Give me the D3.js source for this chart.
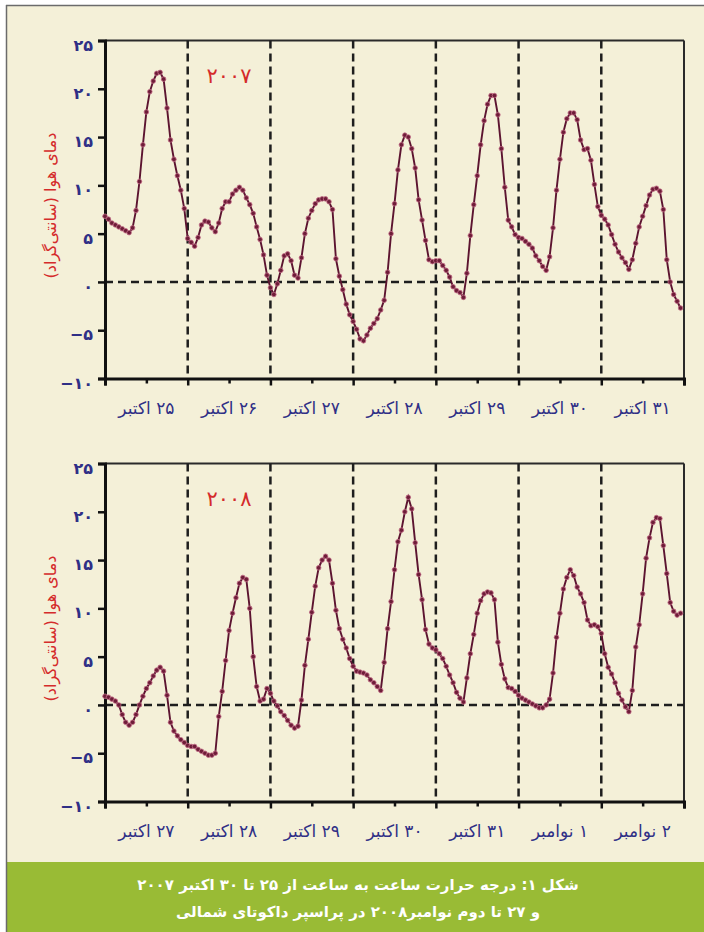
<!DOCTYPE html>
<html><head><meta charset="utf-8">
<script src="https://cdn.jsdelivr.net/npm/d3@7"></script>
<style>
html,body{margin:0;padding:0;background:#fff;}
svg{display:block;}
</style></head>
<body>
<svg id="chart" width="704" height="932"></svg>
<script>
// ---------- data ----------
const temps2007 = [
6.8,6.5,6.1,5.9,5.7,5.5,5.3,5.1,5.6,7.4,10.4,14.2,17.6,19.7,20.8,21.6,21.7,21.0,18.0,14.7,12.7,11.0,9.5,7.6,
4.5,4.1,3.7,4.6,5.9,6.3,6.2,5.6,5.2,6.1,7.6,8.3,8.3,9.1,9.5,9.8,9.5,8.7,8.0,7.1,5.7,4.4,2.8,0.7,
-0.6,-1.3,-0.2,1.2,2.7,2.9,2.2,0.7,0.4,2.5,5.0,6.6,7.4,8.1,8.5,8.6,8.6,8.3,7.5,2.4,0.6,-0.8,-2.3,-3.4,
-4.1,-4.9,-5.9,-6.1,-5.5,-4.8,-4.3,-3.8,-2.9,-1.9,1.0,5.0,8.1,11.6,14.2,15.2,15.0,13.8,11.8,8.5,6.4,4.3,2.3,2.1,
2.2,2.2,1.7,1.2,0.5,-0.5,-0.9,-1.1,-1.6,0.9,4.8,8.0,11.0,14.2,16.7,18.4,19.3,19.3,17.3,13.8,9.8,6.4,5.7,4.9,
4.6,4.5,4.2,3.9,3.5,2.7,2.2,1.6,1.2,2.6,5.6,9.5,12.7,15.5,16.9,17.5,17.5,16.8,14.7,13.7,13.8,12.6,10.1,7.8,
6.9,6.5,5.9,4.9,3.9,3.1,2.5,2.0,1.3,2.3,4.0,5.7,6.8,7.9,9.0,9.6,9.7,9.4,7.5,2.3,0.0,-1.3,-2.0,-2.7
];
const temps2008 = [
0.9,0.8,0.6,0.4,0.0,-1.0,-1.8,-2.1,-1.8,-1.0,0.0,0.9,1.7,2.3,3.0,3.6,3.9,3.5,1.0,-1.8,-2.7,-3.2,-3.6,-3.9,
-4.2,-4.3,-4.3,-4.6,-4.8,-5.0,-5.2,-5.2,-5.0,-1.2,1.4,4.6,7.7,9.5,11.1,12.6,13.2,13.0,10.0,5.0,1.9,0.4,0.6,1.7,
1.2,0.4,-0.1,-0.7,-1.1,-1.6,-2.1,-2.4,-2.2,0.5,4.1,6.8,9.6,12.3,14.2,15.0,15.4,15.0,12.6,9.8,7.9,6.8,5.9,4.8,
4.0,3.5,3.4,3.3,3.1,2.6,2.3,1.9,1.5,4.4,7.9,10.7,14.0,16.9,18.1,20.0,21.5,20.3,16.8,13.5,10.9,7.8,6.3,5.9,
5.7,5.3,4.8,4.0,3.1,2.3,1.3,0.7,0.3,2.8,5.3,7.3,9.5,10.8,11.5,11.7,11.6,10.9,6.5,4.2,2.7,1.8,1.7,1.4,
1.0,0.7,0.5,0.3,0.1,-0.1,-0.3,-0.3,0.0,0.6,3.3,7.0,9.5,12.0,13.2,14.0,13.4,12.2,11.5,10.6,8.8,8.2,8.3,8.1,
7.4,5.3,3.9,3.2,2.3,1.2,0.5,-0.2,-0.7,1.5,6.0,8.3,11.5,15.2,17.3,18.9,19.4,19.3,16.5,13.6,10.6,9.7,9.3,9.5
];
const days2007 = ["۲۵ اکتبر","۲۶ اکتبر","۲۷ اکتبر","۲۸ اکتبر","۲۹ اکتبر","۳۰ اکتبر","۳۱ اکتبر"];
const days2008 = ["۲۷ اکتبر","۲۸ اکتبر","۲۹ اکتبر","۳۰ اکتبر","۳۱ اکتبر","۱ نوامبر","۲ نوامبر"];
const yTicks = [-10,-5,0,5,10,15,20,25];
const yearLabels = ["۲۰۰۷","۲۰۰۸"];
const yTitle = "دمای هوا (سانتی‌گراد)";
const captionLines = ["شکل ۱: درجه حرارت ساعت به ساعت از ۲۵ تا ۳۰ اکتبر ۲۰۰۷",
                      "و ۲۷ تا دوم نوامبر۲۰۰۸ در پراسپر داکوتای شمالی"];

// ---------- helpers ----------
const fa = s => String(s).replace(/\d/g, d => "۰۱۲۳۴۵۶۷۸۹"[+d]);
const fmtY = v => v < 0 ? "−" + fa(Math.abs(v)) : fa(v);
const FONT = "'DejaVu Sans', 'Noto Sans', sans-serif";

const svg = d3.select("#chart");
// background
svg.append("rect").attr("x",0).attr("y",0).attr("width",704).attr("height",932).attr("fill","#ffffff");
svg.append("rect").attr("x",6).attr("y",5).attr("width",698).attr("height",857).attr("fill","#f4f0d8");
svg.append("rect").attr("x",6).attr("y",862).attr("width",698).attr("height",70).attr("fill","#99bb35");
svg.append("line").attr("x1",6.5).attr("x2",6.5).attr("y1",5).attr("y2",932).attr("stroke","#6b6b6b").attr("stroke-width",1.5);
svg.append("line").attr("x1",6).attr("x2",704).attr("y1",5.5).attr("y2",5.5).attr("stroke","#6b6b6b").attr("stroke-width",1.5);

const L = 105, R = 684;
const x = d3.scaleLinear().domain([0,168]).range([L,R]);

function panel(top, bottom, data, dayLabels, year){
  const y = d3.scaleLinear().domain([-10,25]).range([bottom, top]);
  const g = svg.append("g");

  // frame top & right
  g.append("line").attr("x1",L).attr("x2",R).attr("y1",top).attr("y2",top).attr("stroke","#2a2a2a").attr("stroke-width",2);
  g.append("line").attr("x1",R).attr("x2",R).attr("y1",top).attr("y2",bottom).attr("stroke","#2a2a2a").attr("stroke-width",2);

  // dashed day separators and zero line
  g.selectAll("line.vsep").data(d3.range(24,168,24)).join("line")
    .attr("x1",d=>x(d)).attr("x2",d=>x(d)).attr("y1",top).attr("y2",bottom)
    .attr("stroke","#1e1e1e").attr("stroke-width",2.5).attr("stroke-dasharray","8,5");
  g.append("line").attr("x1",L).attr("x2",R).attr("y1",y(0)).attr("y2",y(0))
    .attr("stroke","#1e1e1e").attr("stroke-width",2.5).attr("stroke-dasharray","8,5");

  // y axis
  const ya = g.append("g").attr("transform",`translate(${L},0)`)
    .call(d3.axisLeft(y).tickValues(yTicks).tickSize(7).tickFormat(fmtY));
  ya.select(".domain").attr("stroke","#111").attr("stroke-width",3);
  ya.selectAll(".tick line").attr("stroke","#111").attr("stroke-width",2.5);
  ya.selectAll(".tick text").attr("x",-12).attr("dy","0.6em")
    .attr("fill","#2f2f86").attr("font-family",FONT).attr("font-size",16).attr("font-weight","bold")
    .attr("direction","ltr");

  // x axis
  const xa = g.append("g").attr("transform",`translate(0,${bottom})`)
    .call(d3.axisBottom(x).tickValues(d3.range(0,169,12)).tickSize(7).tickFormat(""));
  xa.select(".domain").attr("stroke","#111").attr("stroke-width",3);
  xa.selectAll(".tick line").attr("stroke","#111").attr("stroke-width",2.5)
    .attr("y2", d => d % 24 === 0 ? 7 : 5);

  // day labels
  g.selectAll("text.day").data(dayLabels).join("text")
    .attr("x",(d,i)=>x(i*24+12)).attr("y",bottom+35)
    .attr("text-anchor","middle").attr("direction","rtl")
    .attr("fill","#2f2f86").attr("font-family",FONT).attr("font-size",17)
    .text(d=>d);

  // y title
  g.append("text").attr("transform",`translate(56,${(top+bottom)/2 - 4}) rotate(-90)`)
    .attr("text-anchor","middle").attr("direction","rtl")
    .attr("fill","#d42b2b").attr("font-family",FONT).attr("font-size",16)
    .text(yTitle);

  // year label
  g.append("text").attr("x",229).attr("y",top+42).attr("text-anchor","middle")
    .attr("fill","#d42b2b").attr("font-family",FONT).attr("font-size",21)
    .text(year);

  // series
  const line = d3.line().x((d,i)=>x(i)).y(d=>y(d));
  g.append("path").datum(data).attr("d",line).attr("fill","none")
    .attr("stroke","#5c1430").attr("stroke-width",1.9);
  g.selectAll("circle.pt").data(data).join("circle")
    .attr("cx",(d,i)=>x(i)).attr("cy",d=>y(d)).attr("r",2.3)
    .attr("fill","#6e1d38").attr("stroke","#c26a86").attr("stroke-width",1).attr("stroke-opacity",0.8);
}

panel(40.5, 378.5, temps2007, days2007, yearLabels[0]);
panel(463.5, 801.5, temps2008, days2008, yearLabels[1]);

// caption
svg.selectAll("text.cap").data(captionLines).join("text")
  .attr("x",358).attr("y",(d,i)=>890 + i*27)
  .attr("text-anchor","middle").attr("direction","rtl")
  .attr("fill","#ffffff").attr("font-family",FONT).attr("font-size",15).attr("font-weight","bold")
  .text(d=>d);
</script>
</body></html>
